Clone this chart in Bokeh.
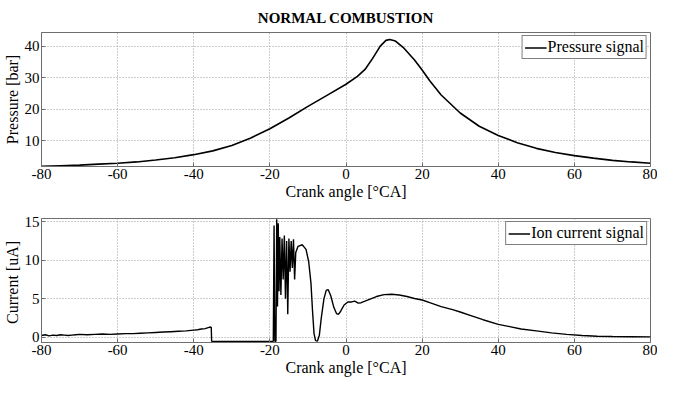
from bokeh.plotting import figure
from bokeh.layouts import column
from bokeh.models import Range1d, FixedTicker, Legend, LegendItem, PrintfTickFormatter
from bokeh.embed import file_html
from bokeh.resources import INLINE

# ---------------- data ----------------
crank_ticks = [-80, -60, -40, -20, 0, 20, 40, 60, 80]
pressure_ticks = [10, 20, 30, 40]
current_ticks = [0, 5, 10, 15]

pressure_angle = [-80, -75, -70, -65, -60, -55, -50, -45, -40, -35, -30, -25, -20, -15,
                  -10, -5, 0, 3, 5, 7, 9, 10.5, 11.5, 13, 15, 18, 20, 22, 25, 30, 35,
                  40, 45, 50, 55, 60, 65, 70, 75, 80]
pressure_bar = [1.9, 2.1, 2.3, 2.6, 2.9, 3.3, 3.9, 4.6, 5.6, 6.8, 8.5, 10.9, 13.8, 17.2,
                20.9, 24.4, 27.9, 30.4, 32.6, 36.1, 40.0, 41.8, 42.1, 41.6, 39.6, 35.6,
                32.4, 29.0, 24.5, 18.8, 14.6, 11.7, 9.4, 7.6, 6.3, 5.3, 4.5, 3.8, 3.3, 2.9]

ion_angle = [-80, -79, -78, -77, -76, -75, -74, -73, -72, -71, -70, -68, -66, -64, -62,
             -60, -58, -56, -54, -52, -50, -48, -46, -44, -42, -40, -39, -38, -37, -36,
             -35.6, -35.4, -35.3, -19.3, -19.1, -18.9, -18.7, -18.4, -18.2, -18.0,
             -17.8, -17.6, -17.4, -17.1, -16.8, -16.5, -16.2, -15.9, -15.6, -15.3,
             -15.0, -14.7, -14.4, -14.1, -13.8, -13.5, -13.2, -12.6, -11.5, -10.5,
             -9.8, -9.2, -8.8, -8.4, -8.0, -7.5, -7.0, -6.5, -5.8, -5.2, -4.7, -4.0,
             -3.2, -2.5, -2.0, -1.4, -0.5, 0.5, 1.5, 2.3, 3.2, 4, 6, 8, 10, 12, 14,
             16, 18, 20, 22, 25, 28, 30, 33, 36, 40, 43, 46, 50, 54, 58, 62, 66, 70,
             75, 80]
ion_current = [0.25, 0.35, 0.2, 0.3, 0.25, 0.35, 0.3, 0.25, 0.3, 0.35, 0.4, 0.35, 0.4,
               0.45, 0.4, 0.45, 0.5, 0.5, 0.55, 0.6, 0.65, 0.7, 0.75, 0.8, 0.85, 0.95,
               1.0, 1.1, 1.15, 1.3, 1.35, 1.3, -0.5, -0.5, -0.5, 14.5, -0.5, -0.5,
               15.3, 4.0, 14.8, 6.0, 13.0, 5.5, 12.8, 7.5, 13.2, 5.0, 12.5, 3.0, 12.8,
               8.5, 12.5, 9.0, 12.7, 7.5, 11.0, 11.8, 12.0, 11.4, 9.8, 7.0, 3.5, 0.5,
               -0.4, -0.45, 0.3, 2.5, 5.0, 6.1, 6.2, 5.4, 3.9, 3.1, 3.0, 3.4, 4.2, 4.6,
               4.6, 4.7, 4.45, 4.5, 4.9, 5.3, 5.55, 5.6, 5.5, 5.3, 5.05, 4.85, 4.5, 4.0,
               3.6, 3.3, 2.8, 2.3, 1.7, 1.4, 1.1, 0.85, 0.6, 0.4, 0.25, 0.15, 0.12,
               0.1, 0.08]

SERIF = "Liberation Serif"
FRAME = "#6e6e6e"


def style(p, yticks):
    p.xaxis.ticker = FixedTicker(ticks=crank_ticks)
    p.yaxis.ticker = FixedTicker(ticks=yticks)
    p.xaxis.formatter = PrintfTickFormatter(format="%d")
    p.yaxis.formatter = PrintfTickFormatter(format="%d")
    for ax in (p.xaxis[0], p.yaxis[0]):
        ax.major_label_text_font = SERIF
        ax.major_label_text_font_size = "15px"
        ax.major_label_text_color = "black"
        ax.axis_label_text_font = SERIF
        ax.axis_label_text_font_size = "16px"
        ax.axis_label_text_font_style = "normal"
        ax.axis_label_text_color = "black"
        ax.axis_line_color = FRAME
        ax.major_tick_line_color = FRAME
        ax.major_tick_in = 4
        ax.major_tick_out = 0
        ax.minor_tick_line_color = None
        ax.major_label_standoff = 2
        ax.axis_label_standoff = 1
    p.xaxis.axis_label = "Crank angle [°CA]"
    p.xgrid.ticker = FixedTicker(ticks=crank_ticks)
    p.ygrid.ticker = FixedTicker(ticks=yticks)
    for g in (p.xgrid[0], p.ygrid[0]):
        g.grid_line_color = "#9a9a9a"
        g.grid_line_dash = "1 2"
        g.grid_line_width = 1
    p.outline_line_color = FRAME
    p.outline_line_width = 1
    p.background_fill_color = "white"
    p.border_fill_color = "white"


def add_legend(p, renderer, label):
    leg = Legend(items=[LegendItem(label=label, renderers=[renderer])],
                 location="top_right")
    leg.label_text_font = SERIF
    leg.label_text_font_size = "16px"
    leg.label_text_color = "black"
    leg.border_line_color = "black"
    leg.border_line_width = 1
    leg.background_fill_alpha = 1
    leg.margin = 3
    leg.padding = 2
    leg.spacing = 0
    leg.glyph_width = 22
    leg.label_standoff = 1
    leg.label_height = 17
    leg.glyph_height = 17
    p.add_layout(leg)


p1 = figure(width=657, height=202, output_backend="svg", toolbar_location=None,
            x_range=Range1d(-80, 80), y_range=Range1d(1.85, 44.3),
            min_border_left=38, min_border_right=7, min_border_top=32,
            min_border_bottom=36)
p1.title.text = "NORMAL COMBUSTION"
p1.title.align = "center"
p1.title.text_font = SERIF
p1.title.text_font_size = "15px"
p1.title.text_font_style = "bold"
p1.title.text_color = "black"
p1.title.standoff = 14
style(p1, pressure_ticks)
p1.yaxis.axis_label = "Pressure [bar]"
r1 = p1.line(pressure_angle, pressure_bar, line_color="black", line_width=1.6)
add_legend(p1, r1, "Pressure signal")

p2 = figure(width=657, height=176, output_backend="svg", toolbar_location=None,
            x_range=Range1d(-80, 80), y_range=Range1d(-0.65, 15.4),
            min_border_left=38, min_border_right=7, min_border_top=16,
            min_border_bottom=0)
style(p2, current_ticks)
p2.yaxis.axis_label = "Current  [uA]"
r2 = p2.line(ion_angle, ion_current, line_color="black", line_width=1.4)
add_legend(p2, r2, "Ion current signal")

layout = column(p1, p2, spacing=0)
open("out.html", "w").write(file_html(layout, INLINE))
